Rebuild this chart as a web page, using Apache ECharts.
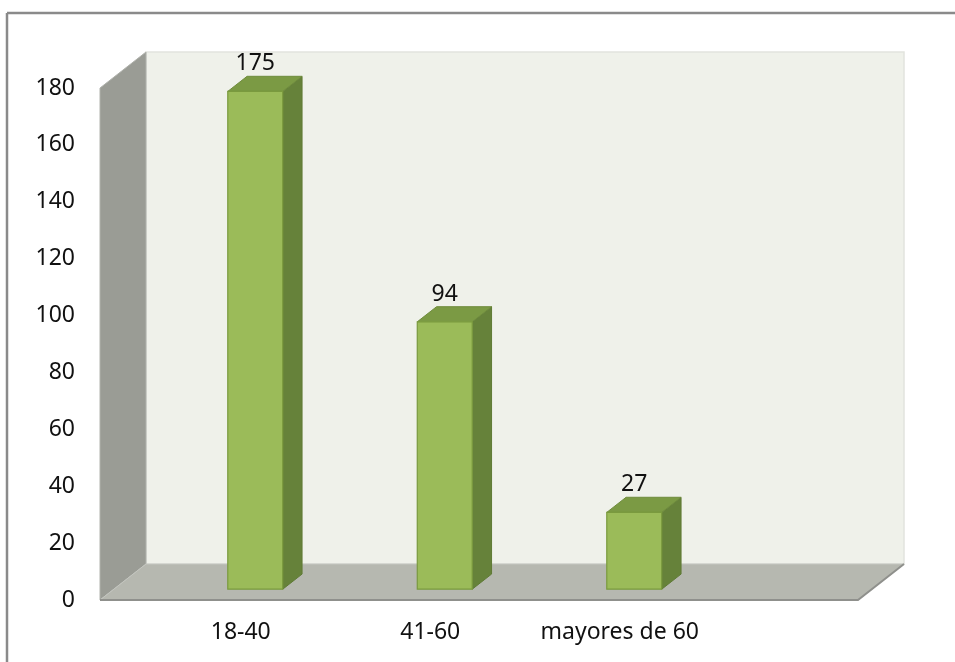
<!DOCTYPE html>
<html><head><meta charset="utf-8">
<script src="https://cdn.jsdelivr.net/npm/echarts@6/dist/echarts.min.js"></script>
<style>html,body{margin:0;padding:0;background:#fff}#c{width:955px;height:662px}</style>
</head><body><div id="c"></div>
<script>
// ---- data ----
const categories = ['18-40', '41-60', 'mayores de 60'];
const values = [175, 94, 27];
const emptySlots = [''];            // unused fourth slot on the category axis
const yMin = 0, yMax = 180, yStep = 20;

// ---- style / layout constants ----
const FONT = 'Noto Sans';
const DEPTH_X = 46, DEPTH_Y = -36;  // full depth of the 3D box
const BAR_FRONT = 0.30, BAR_BACK = 0.72; // bar depth fractions
const BAR_WIDTH_RATIO = 0.29;
const BAR_SHIFT = 14.5;

const chart = echarts.init(document.getElementById('c'), null, {renderer: 'canvas'});

function wallsRender(params, api) {
  const cs = params.coordSys;
  const xl = cs.x, xr = cs.x + cs.width, yt = cs.y, yb = cs.y + cs.height;
  const bx1 = xl, bx2 = xr, by1 = yt + DEPTH_Y, by2 = yb + DEPTH_Y;
  const fx1 = xl - DEPTH_X, fx2 = xr - DEPTH_X, fy1 = yt, fy2 = yb;
  return {
    type: 'group',
    children: [
      {type: 'polygon', shape: {points: [[bx1, by1], [bx2, by1], [bx2, by2], [bx1, by2]]},
       style: {fill: '#eff1ea', stroke: '#e2e4de', lineWidth: 1.5}},
      {type: 'polygon', shape: {points: [[bx1, by1], [bx1, by2], [fx1, fy2], [fx1, fy1]]},
       style: {fill: '#9a9c95', stroke: '#b0b2ac', lineWidth: 1}},
      {type: 'polygon', shape: {points: [[bx1, by2], [bx2, by2], [fx2, fy2], [fx1, fy2]]},
       style: {fill: '#b6b8b0', stroke: '#c4c6c0', lineWidth: 1}},
      {type: 'polyline', shape: {points: [[fx1, fy2], [fx2, fy2], [bx2, by2]]},
       style: {fill: null, stroke: '#8f908c', lineWidth: 2}}
    ]
  };
}

function barRender(params, api) {
  const ci = api.value(0), v = api.value(1);
  const p0 = api.coord([ci, 0]);
  const p1 = api.coord([ci, v]);
  const w = api.size([1, 0])[0] * BAR_WIDTH_RATIO;
  const cx = p0[0] + BAR_SHIFT;
  const yb = p0[1] + DEPTH_Y * BAR_FRONT;
  const yt = p1[1] + DEPTH_Y * BAR_FRONT;
  const dx = DEPTH_X * (BAR_BACK - BAR_FRONT), dy = DEPTH_Y * (BAR_BACK - BAR_FRONT);
  const xl = cx - w / 2, xr = cx + w / 2;
  return {
    type: 'group',
    children: [
      {type: 'polygon', shape: {points: [[xr, yt], [xr + dx, yt + dy], [xr + dx, yb + dy], [xr, yb]]},
       style: {fill: '#66823a', stroke: '#5f7a35', lineWidth: 1}},
      {type: 'polygon', shape: {points: [[xl, yt], [xl + dx, yt + dy], [xr + dx, yt + dy], [xr, yt]]},
       style: {fill: '#7b9a44', stroke: '#6f8c3d', lineWidth: 1}},
      {type: 'rect', shape: {x: xl, y: yt, width: w, height: yb - yt},
       style: {fill: '#9bbb59', stroke: '#7a9a3e', lineWidth: 1.2}},
      {type: 'text', style: {text: String(v), x: cx, y: yt + dy - 1, align: 'center', verticalAlign: 'bottom',
        fontFamily: FONT, fontSize: 23, fill: '#111'}}
    ]
  };
}

chart.setOption({
  animation: false,
  backgroundColor: '#ffffff',
  graphic: [
    {type: 'line', shape: {x1: 7, y1: 13, x2: 955, y2: 13}, style: {stroke: '#8a8a8a', lineWidth: 2.5}},
    {type: 'line', shape: {x1: 7, y1: 13, x2: 7, y2: 662}, style: {stroke: '#8a8a8a', lineWidth: 2.5}}
  ],
  grid: {left: 146, right: 51, top: 88, bottom: 62, containLabel: false, outerBoundsMode: 'none'},
  xAxis: {
    type: 'category',
    data: categories.concat(emptySlots),
    axisLine: {show: false}, axisTick: {show: false},
    axisLabel: {margin: 21, fontFamily: FONT, fontSize: 23, color: '#111', interval: 0}
  },
  yAxis: {
    type: 'value', min: yMin, max: yMax, interval: yStep,
    axisLine: {show: false}, axisTick: {show: false}, splitLine: {show: false},
    axisLabel: {margin: 71, fontFamily: FONT, fontSize: 23, color: '#111'}
  },
  series: [
    {type: 'custom', z: 1, silent: true, clip: false, renderItem: wallsRender, data: [[0, 0]]},
    {type: 'custom', z: 2, silent: true, clip: false, renderItem: barRender,
     data: values.map((v, i) => [i, v])}
  ]
});
</script></body></html>
